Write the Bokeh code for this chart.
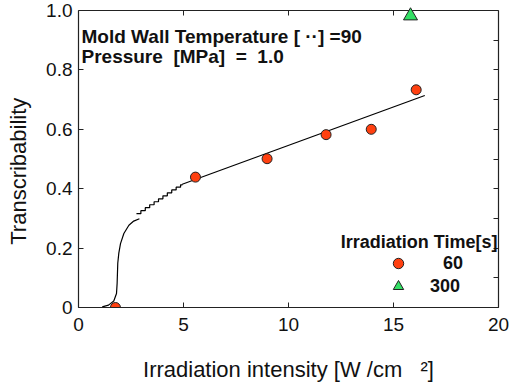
from bokeh.plotting import figure
from bokeh.models import (Range1d, LinearAxis, FixedTicker, Label, Legend, LegendItem)
from bokeh.embed import file_html
from bokeh.resources import INLINE

# ---- data ----
intensity_60s = [1.76, 5.57, 8.98, 11.79, 13.94, 16.08]
transcrib_60s = [0.0, 0.439, 0.501, 0.582, 0.600, 0.733]
intensity_300s = [15.81]
transcrib_300s = [0.982]

curve_x = [1.13, 1.43, 1.68, 1.81, 1.84, 1.87, 1.92, 2.00, 2.16, 2.40, 2.63, 2.90]
curve_y = [0.002, 0.008, 0.022, 0.047, 0.082, 0.149, 0.183, 0.215, 0.249, 0.277, 0.291, 0.299]

stair_x = [2.76, 2.97, 3.18, 3.39, 3.60, 3.81, 4.02, 4.23, 4.44, 4.65, 4.86, 4.94]
stair_y = [0.316, 0.326, 0.336, 0.346, 0.356, 0.366, 0.376, 0.386, 0.396, 0.405, 0.413, 0.415]

fit_x = [4.94, 16.49]
fit_y = [0.415, 0.714]

x_ticks = [0, 5, 10, 15, 20]
y_ticks = [0, 0.2, 0.4, 0.6, 0.8, 1.0]
y_tick_labels = ["0", "0.2", "0.4", "0.6", "0.8", "1.0"]
top_ticks = [5, 10, 15]
right_ticks = [0, 0.1, 0.2, 0.3, 0.4, 0.5, 0.6, 0.7, 0.8, 0.9, 1.0]

x_title = "Irradiation intensity [W /cm\u00a0\u00a0\u00a0\u00b2]"
y_title = "Transcribability\u00a0\u00a0\u00a0\u00a0"
note1 = "Mold Wall Temperature [ \u00b7\u00b7] =90"
note2 = "Pressure\u00a0 [MPa]\u00a0 =\u00a0 1.0"
legend_title = "Irradiation Time[s]"
series_labels = ["60", "300"]

FONT = "Liberation Sans"
AXC = "#222222"
TXT = "#111111"

p = figure(width=510, height=387, output_backend="svg", toolbar_location=None,
           x_range=Range1d(0, 20), y_range=Range1d(0, 1.0),
           x_axis_location=None, y_axis_location=None)
p.min_border_left = 78
p.min_border_right = 12
p.min_border_top = 10
p.min_border_bottom = 80
p.outline_line_color = None
p.xgrid.visible = False
p.ygrid.visible = False
p.background_fill_color = "white"
p.border_fill_color = "white"

def style_axis(ax, label_size="19px"):
    ax.axis_line_color = AXC
    ax.axis_line_width = 1.2
    ax.major_tick_line_color = AXC
    ax.major_tick_in = 5
    ax.major_tick_out = 0
    ax.minor_tick_line_color = None
    ax.major_label_text_font = FONT
    ax.major_label_text_font_size = label_size
    ax.major_label_text_color = TXT
    ax.axis_label_text_font = FONT
    ax.axis_label_text_font_size = "22px"
    ax.axis_label_text_font_style = "normal"
    ax.axis_label_text_color = TXT

bottom = LinearAxis(ticker=FixedTicker(ticks=x_ticks), axis_label=x_title)
style_axis(bottom)
bottom.major_label_standoff = 10
bottom.axis_label_standoff = 23
p.add_layout(bottom, "below")

left = LinearAxis(ticker=FixedTicker(ticks=y_ticks), axis_label=y_title,
                  major_label_overrides={v: s for v, s in zip(y_ticks, y_tick_labels)})
style_axis(left)
left.major_label_standoff = 6
left.axis_label_standoff = 12
p.add_layout(left, "left")

top = LinearAxis(ticker=FixedTicker(ticks=top_ticks))
style_axis(top, "1px")
top.major_label_text_color = None
top.major_label_standoff = 0
p.add_layout(top, "above")

right = LinearAxis(ticker=FixedTicker(ticks=right_ticks))
style_axis(right, "1px")
right.major_label_text_color = None
right.major_label_standoff = 0
p.add_layout(right, "right")

# fitted curve pieces
p.line(curve_x, curve_y, line_color="black", line_width=1.2)
p.step(stair_x, stair_y, mode="after", line_color="black", line_width=1.2)
p.line(fit_x, fit_y, line_color="black", line_width=1.2)

circ = p.scatter(intensity_60s, transcrib_60s, marker="circle", size=10,
                 fill_color="#FF4010", line_color="#222222", line_width=1)
tri = p.scatter(intensity_300s, transcrib_300s, marker="triangle", size=14,
                fill_color="#33E065", line_color="#222222", line_width=1)
tri.level = "overlay"

# legends
leg1 = Legend(items=[LegendItem(label=series_labels[0], renderers=[circ])],
              location=(307, 31), label_standoff=32)
leg2 = Legend(items=[LegendItem(label=series_labels[1], renderers=[tri])],
              location=(307, 8), label_standoff=19)
for lg in (leg1, leg2):
    lg.glyph_width = 26
    lg.glyph_height = 26
    lg.padding = 0
    lg.margin = 0
    lg.spacing = 0
    lg.border_line_color = None
    lg.background_fill_alpha = 0
    lg.label_text_font = FONT
    lg.label_text_font_size = "18px"
    lg.label_text_font_style = "bold"
    lg.label_text_color = TXT
    p.add_layout(lg, "center")

def lab(text, x, y, size, bold=False, align="left"):
    p.add_layout(Label(x=x, y=y, x_units="screen", y_units="screen", text=text,
                       text_font=FONT, text_font_size=size,
                       text_font_style="bold" if bold else "normal",
                       text_color=TXT, text_align=align, text_baseline="alphabetic"))

lab(legend_title, 419, 66, "18px", bold=True, align="right")
lab(note1, 3, 271, "19px", bold=True)
lab(note2, 3, 251, "19px", bold=True)

open("out.html", "w").write(file_html(p, INLINE))
